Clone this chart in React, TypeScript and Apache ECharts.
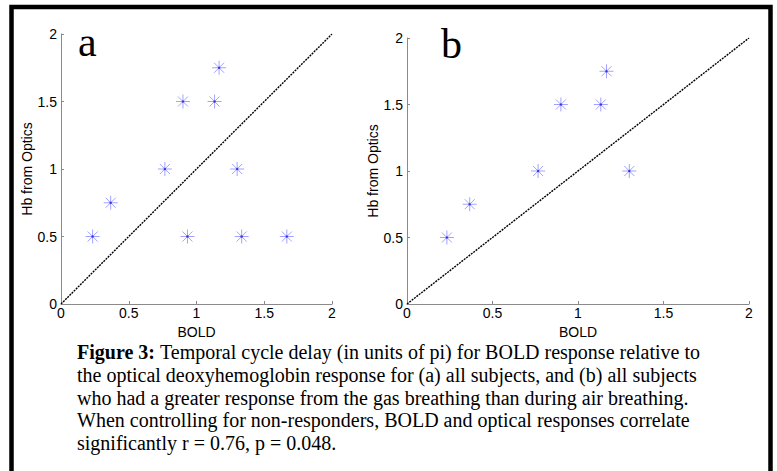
import React, { useEffect, useRef } from "react";
import * as echarts from "echarts";

const boldA = [7 / 30, 11 / 30, 23 / 30, 27 / 30, 28 / 30, 34 / 30, 35 / 30, 39 / 30, 40 / 30, 50 / 30];
const hbA = [0.5, 0.75, 1.0, 1.5, 0.5, 1.5, 1.75, 1.0, 0.5, 0.5];
const boldB = [7 / 30, 11 / 30, 23 / 30, 27 / 30, 34 / 30, 35 / 30, 39 / 30];
const hbB = [0.5, 0.75, 1.0, 1.5, 1.5, 1.75, 1.0];
const identityLine = [[0, 0], [2, 2]];
const panelLetters = ["a", "b"];
const xName = "BOLD";
const yName = "Hb from Optics";
const captionLines = [
  "Temporal cycle delay (in units of pi) for BOLD response relative to",
  "the optical deoxyhemoglobin response for (a) all subjects, and (b) all subjects",
  "who had a greater response from the gas breathing than during air breathing.",
  "When controlling for non-responders, BOLD and optical responses correlate",
  "significantly r = 0.76, p = 0.048.",
];
const captionLead = "Figure 3:";

const STAR = "path://M0,-7L0,7M-7,0L7,0M-5,-5L5,5M-5,5L5,-5";

export default function App() {
  const ref = useRef<HTMLDivElement>(null);
  useEffect(() => {
    if (!ref.current) return;
    const chart = echarts.init(ref.current, undefined, { renderer: "svg" });
    const grids = [
      { left: 61, top: 34, width: 271, height: 270 },
      { left: 407, top: 38, width: 342, height: 266 },
    ];
    const axisCommon = {
      type: "value",
      min: 0,
      max: 2,
      interval: 0.5,
      splitLine: { show: false },
      axisLine: { show: true, lineStyle: { color: "#8a8a8a", width: 1 } },
      axisTick: { show: true, inside: true, length: 3, lineStyle: { color: "#8a8a8a" } },
      axisLabel: { color: "#000", fontFamily: "Liberation Sans", fontSize: 14 },
      nameTextStyle: { color: "#000", fontFamily: "Liberation Sans", fontSize: 14 },
    };
    const xAxes = grids.map((_, i) => ({
      ...axisCommon,
      gridIndex: i,
      name: xName,
      nameLocation: "middle",
      nameGap: 18,
      axisLabel: { ...axisCommon.axisLabel, margin: 2 },
    }));
    const yAxes = grids.map((_, i) => ({
      ...axisCommon,
      gridIndex: i,
      name: yName,
      nameLocation: "middle",
      nameGap: 25,
      axisLabel: { ...axisCommon.axisLabel, margin: 4 },
    }));
    const pts = [
      boldA.map((x, i) => [x, hbA[i]]),
      boldB.map((x, i) => [x, hbB[i]]),
    ];
    const series: any[] = [];
    pts.forEach((data, i) => {
      series.push({
        type: "line",
        xAxisIndex: i,
        yAxisIndex: i,
        data: identityLine,
        showSymbol: false,
        symbol: "none",
        lineStyle: { color: "#000", width: 1.4, type: [2, 1] },
        silent: true,
      });
      series.push({
        type: "scatter",
        xAxisIndex: i,
        yAxisIndex: i,
        data,
        symbol: STAR,
        symbolSize: 14,
        itemStyle: { color: "none", borderColor: "#8c8cff", borderWidth: 1 },
      });
      series.push({
        type: "scatter",
        xAxisIndex: i,
        yAxisIndex: i,
        data,
        symbol: "circle",
        symbolSize: 2.5,
        itemStyle: { color: "#2020e0" },
      });
    });
    const caption: any[] = captionLines.map((line, i) => ({
      type: "text",
      left: 77,
      top: 342 + i * 22.75,
      style: i === 0
        ? {
            text: `{b|${captionLead}} {n|${line}}`,
            rich: {
              b: { fontFamily: "Liberation Serif", fontSize: 20, fontWeight: "bold", fill: "#000" },
              n: { fontFamily: "Liberation Serif", fontSize: 20, fill: "#000" },
            },
            fontFamily: "Liberation Serif",
            fontSize: 20,
            fill: "#000",
          }
        : { text: line, fontFamily: "Liberation Serif", fontSize: 20, fill: "#000" },
    }));
    chart.setOption({
      animation: false,
      grid: grids,
      xAxis: xAxes,
      yAxis: yAxes,
      series,
      graphic: [
        {
          type: "rect",
          shape: { x: 11.5, y: 7, width: 759, height: 520 },
          style: { fill: "none", stroke: "#000", lineWidth: 4.5 },
          silent: true,
        },
        {
          type: "text",
          x: 78,
          y: 42,
          style: { text: panelLetters[0], fontFamily: "Liberation Serif", fontSize: 42, fill: "#000", verticalAlign: "middle" },
        },
        {
          type: "text",
          x: 441,
          y: 44,
          style: { text: panelLetters[1], fontFamily: "Liberation Serif", fontSize: 42, fill: "#000", verticalAlign: "middle" },
        },
        ...caption,
      ],
    });
    return () => chart.dispose();
  }, []);
  return (
    <div
      ref={ref}
      style={{ position: "fixed", left: 0, top: 0, width: 777, height: 471, background: "#fff" }}
    />
  );
}
